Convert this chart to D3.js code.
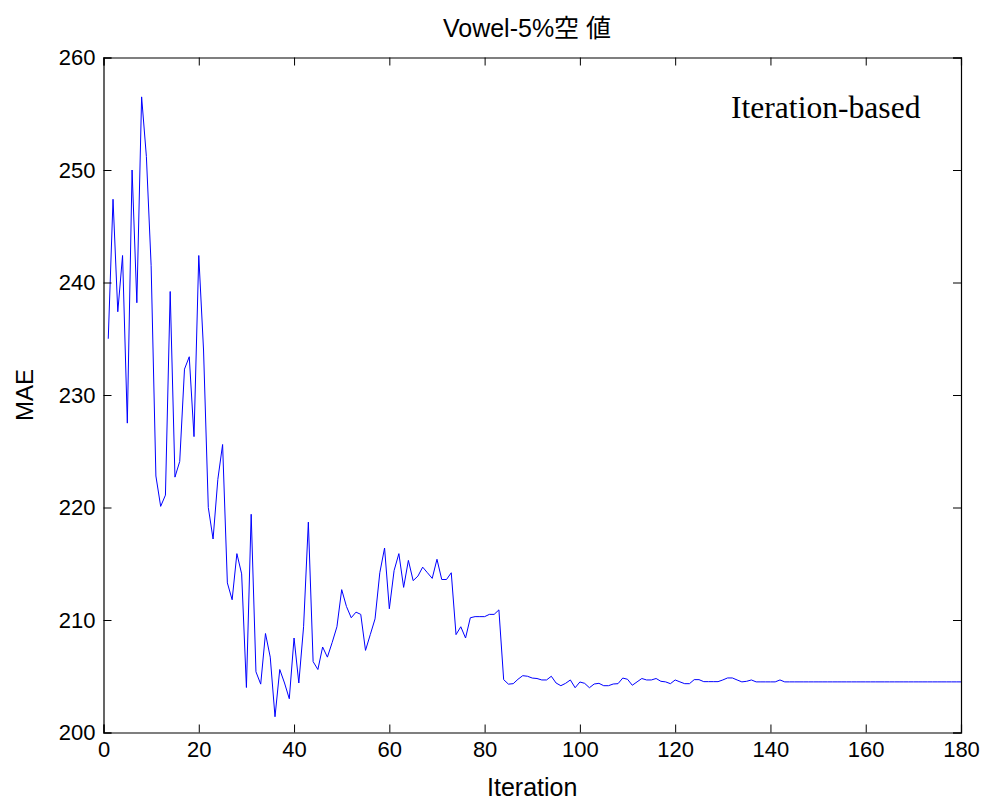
<!DOCTYPE html>
<html><head><meta charset="utf-8">
<script src="https://cdn.jsdelivr.net/npm/d3@7"></script>
<style>body{margin:0;background:#fff}</style>
</head><body>
<svg id="chart" width="988" height="800"></svg>
<script>
const chartTitle = "Vowel-5%空 値";
const xLabel = "Iteration";
const yLabel = "MAE";
const annotation = "Iteration-based";
const xTicks = [0,20,40,60,80,100,120,140,160,180];
const yTicks = [200,210,220,230,240,250,260];
const iterations = d3.range(1, 181);
const maeValues = [
 235.0,247.4,237.4,242.4,227.5,250.0,238.2,256.5,251.2,241.5,
 222.8,220.1,221.1,239.2,222.7,224.1,232.3,233.4,226.3,242.4,
 234.0,220.0,217.2,222.5,225.6,213.3,211.8,215.9,214.1,204.0,
 219.4,205.4,204.3,208.8,206.7,201.4,205.6,204.4,203.0,208.4,
 204.4,209.4,218.7,206.3,205.6,207.6,206.7,208.0,209.4,212.7,
 211.2,210.2,210.7,210.5,207.3,208.7,210.1,214.2,216.4,211.0,
 214.4,215.9,212.9,215.3,213.5,213.9,214.7,214.2,213.7,215.4,
 213.6,213.6,214.2,208.7,209.4,208.4,210.2,210.3,210.3,210.3,
 210.5,210.5,210.9,204.7,204.3,204.34,204.73,205.05,205.0,204.84,
 204.8,204.67,204.67,205.0,204.4,204.16,204.37,204.67,203.98,204.49,
 204.37,203.98,204.31,204.37,204.16,204.16,204.31,204.34,204.84,204.73,
 204.2,204.5,204.8,204.67,204.67,204.8,204.55,204.5,204.34,204.67,
 204.5,204.34,204.34,204.7,204.7,204.52,204.52,204.52,204.52,204.67,
 204.85,204.85,204.67,204.5,204.55,204.67,204.5,204.5,204.5,204.5,
 204.5,204.67,204.5,204.5,204.5,204.5,204.5,204.5,204.5,204.5,
 204.5,204.5,204.5,204.5,204.5,204.5,204.5,204.5,204.5,204.5,
 204.5,204.5,204.5,204.5,204.5,204.5,204.5,204.5,204.5,204.5,
 204.5,204.5,204.5,204.5,204.5,204.5,204.5,204.5,204.5,204.5
];

const svg = d3.select("#chart");
const L = 103.5, R = 961, T = 57.5, B = 732.5;
const x = d3.scaleLinear().domain([0,180]).range([L,R]);
const y = d3.scaleLinear().domain([200,260]).range([B,T]);
const font = "'Liberation Sans', Arial, sans-serif";
const fs = 22, lfs = 25, tl = 8;

// line
svg.append("path")
  .datum(iterations.map((it,i)=>[it, maeValues[i]]))
  .attr("fill","none").attr("stroke","#0000ff").attr("stroke-width",1)
  .attr("d", d3.line().x(d=>x(d[0])).y(d=>y(d[1])));

// axes
const styleText = g => g.selectAll("text").attr("font-family",font).attr("font-size",fs).attr("fill","#000");
const gBottom = svg.append("g").attr("transform",`translate(0,${B})`)
  .call(d3.axisBottom(x).tickValues(xTicks).tickSize(-tl).tickPadding(9).tickFormat(d3.format("d")));
const gLeft = svg.append("g").attr("transform",`translate(${L},0)`)
  .call(d3.axisLeft(y).tickValues(yTicks).tickSize(-tl).tickPadding(8).tickFormat(d3.format("d")));
const gTop = svg.append("g").attr("transform",`translate(0,${T})`)
  .call(d3.axisTop(x).tickValues(xTicks).tickSize(-tl).tickFormat(""));
const gRight = svg.append("g").attr("transform",`translate(${R},0)`)
  .call(d3.axisRight(y).tickValues(yTicks).tickSize(-tl).tickFormat(""));
[gBottom,gLeft,gTop,gRight].forEach(g=>{
  styleText(g);
  g.select(".domain").attr("stroke","#000").attr("stroke-width",1.2);
  g.selectAll(".tick line").attr("stroke","#000").attr("stroke-width",1);
});

svg.append("text").attr("x",527).attr("y",37).attr("text-anchor","middle")
  .attr("font-family",font+", 'Noto Sans CJK JP'").attr("font-size",lfs).text(chartTitle);
svg.append("text").attr("x",(L+R)/2).attr("y",796).attr("text-anchor","middle")
  .attr("font-family",font).attr("font-size",lfs).text(xLabel);
svg.append("text").attr("transform",`translate(33,${(T+B)/2}) rotate(-90)`).attr("text-anchor","middle")
  .attr("font-family",font).attr("font-size",24).text(yLabel);
svg.append("text").attr("x",731).attr("y",118)
  .attr("font-family","'Liberation Serif', 'Times New Roman', serif").attr("font-size",31.6).text(annotation);
</script>
</body></html>
